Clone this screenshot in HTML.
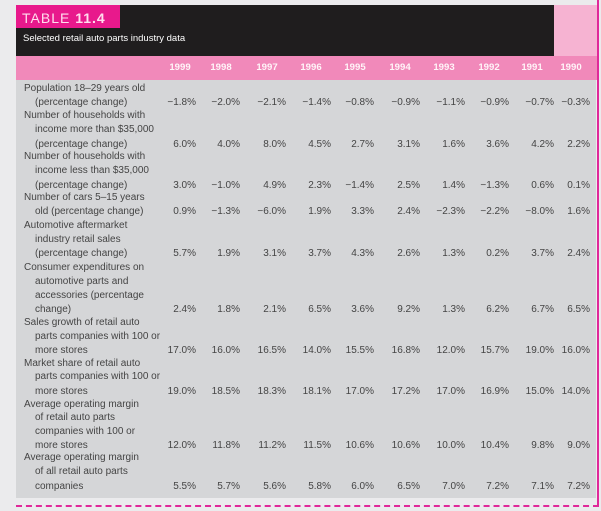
<!DOCTYPE html>
<html><head><meta charset="utf-8"><style>
*{margin:0;padding:0;box-sizing:border-box}
body{width:601px;height:511px;background:#ebebed;position:relative;overflow:hidden;font-family:"Liberation Sans",sans-serif;color:#444;font-size:10px}
.a{position:absolute}
.l{position:absolute;left:24px;line-height:14px;white-space:nowrap}
.i{left:35px}
.r{position:absolute;left:0;width:601px;height:14px;line-height:14px}
.r span{position:absolute;text-align:right;width:50px}
.r span:nth-child(1){left:146px}.r span:nth-child(2){left:190px}.r span:nth-child(3){left:236px}
.r span:nth-child(4){left:281px}.r span:nth-child(5){left:324px}.r span:nth-child(6){left:370px}
.r span:nth-child(7){left:415px}.r span:nth-child(8){left:459px}.r span:nth-child(9){left:504px}
.r span:nth-child(10){left:540px}
.y{position:absolute;top:61px;color:#fff4f8;font-weight:bold;font-size:9.6px;width:40px;text-align:center;line-height:14px}
</style></head><body>
<div class="a" style="left:16px;top:5px;width:538px;height:51px;background:#1f1d1e"></div>
<div class="a" style="left:554px;top:5px;width:44px;height:51px;background:#f6b3d2"></div>
<div class="a" style="left:16px;top:5px;width:104px;height:23px;background:#e8198c"></div>
<div class="a" style="left:22px;top:9px;color:#fde;font-size:14px;letter-spacing:1px;line-height:18px">TABLE <b>11.4</b></div>
<div class="a" style="left:23px;top:33px;color:#fff;font-size:9.5px;line-height:12px">Selected retail auto parts industry data</div>
<div class="a" style="left:16px;top:56px;width:582px;height:24px;background:#f189ba"></div>
<div class="a" style="left:16px;top:80px;width:580px;height:418px;background:#d5d6d8"></div>
<div class="a" style="left:597px;top:0;width:2px;height:506px;background:#e0289a"></div>
<div class="a" style="left:16px;top:505px;width:583px;height:0;border-top:2px dashed #e0289a"></div>
<div class="y" style="left:160px">1999</div><div class="y" style="left:201px">1998</div><div class="y" style="left:247px">1997</div><div class="y" style="left:291px">1996</div><div class="y" style="left:335px">1995</div><div class="y" style="left:380px">1994</div><div class="y" style="left:424px">1993</div><div class="y" style="left:469px">1992</div><div class="y" style="left:512px">1991</div><div class="y" style="left:551px">1990</div>

<div class="l" style="top:82px">Population 18–29 years old</div>
<div class="l i" style="top:96px">(percentage change)</div>
<div class="r" style="top:96px"><span>−1.8%</span><span>−2.0%</span><span>−2.1%</span><span>−1.4%</span><span>−0.8%</span><span>−0.9%</span><span>−1.1%</span><span>−0.9%</span><span>−0.7%</span><span>−0.3%</span></div>
<div class="l" style="top:109px">Number of households with</div>
<div class="l i" style="top:123px">income more than $35,000</div>
<div class="l i" style="top:138px">(percentage change)</div>
<div class="r" style="top:138px"><span>6.0%</span><span>4.0%</span><span>8.0%</span><span>4.5%</span><span>2.7%</span><span>3.1%</span><span>1.6%</span><span>3.6%</span><span>4.2%</span><span>2.2%</span></div>
<div class="l" style="top:150px">Number of households with</div>
<div class="l i" style="top:164px">income less than $35,000</div>
<div class="l i" style="top:179px">(percentage change)</div>
<div class="r" style="top:179px"><span>3.0%</span><span>−1.0%</span><span>4.9%</span><span>2.3%</span><span>−1.4%</span><span>2.5%</span><span>1.4%</span><span>−1.3%</span><span>0.6%</span><span>0.1%</span></div>
<div class="l" style="top:191px">Number of cars 5–15 years</div>
<div class="l i" style="top:205px">old (percentage change)</div>
<div class="r" style="top:205px"><span>0.9%</span><span>−1.3%</span><span>−6.0%</span><span>1.9%</span><span>3.3%</span><span>2.4%</span><span>−2.3%</span><span>−2.2%</span><span>−8.0%</span><span>1.6%</span></div>
<div class="l" style="top:219px">Automotive aftermarket</div>
<div class="l i" style="top:233px">industry retail sales</div>
<div class="l i" style="top:247px">(percentage change)</div>
<div class="r" style="top:247px"><span>5.7%</span><span>1.9%</span><span>3.1%</span><span>3.7%</span><span>4.3%</span><span>2.6%</span><span>1.3%</span><span>0.2%</span><span>3.7%</span><span>2.4%</span></div>
<div class="l" style="top:261px">Consumer expenditures on</div>
<div class="l i" style="top:275px">automotive parts and</div>
<div class="l i" style="top:289px">accessories (percentage</div>
<div class="l i" style="top:303px">change)</div>
<div class="r" style="top:303px"><span>2.4%</span><span>1.8%</span><span>2.1%</span><span>6.5%</span><span>3.6%</span><span>9.2%</span><span>1.3%</span><span>6.2%</span><span>6.7%</span><span>6.5%</span></div>
<div class="l" style="top:316px">Sales growth of retail auto</div>
<div class="l i" style="top:330px">parts companies with 100 or</div>
<div class="l i" style="top:344px">more stores</div>
<div class="r" style="top:344px"><span>17.0%</span><span>16.0%</span><span>16.5%</span><span>14.0%</span><span>15.5%</span><span>16.8%</span><span>12.0%</span><span>15.7%</span><span>19.0%</span><span>16.0%</span></div>
<div class="l" style="top:357px">Market share of retail auto</div>
<div class="l i" style="top:370px">parts companies with 100 or</div>
<div class="l i" style="top:385px">more stores</div>
<div class="r" style="top:385px"><span>19.0%</span><span>18.5%</span><span>18.3%</span><span>18.1%</span><span>17.0%</span><span>17.2%</span><span>17.0%</span><span>16.9%</span><span>15.0%</span><span>14.0%</span></div>
<div class="l" style="top:398px">Average operating margin</div>
<div class="l i" style="top:411px">of retail auto parts</div>
<div class="l i" style="top:425px">companies with 100 or</div>
<div class="l i" style="top:439px">more stores</div>
<div class="r" style="top:439px"><span>12.0%</span><span>11.8%</span><span>11.2%</span><span>11.5%</span><span>10.6%</span><span>10.6%</span><span>10.0%</span><span>10.4%</span><span>9.8%</span><span>9.0%</span></div>
<div class="l" style="top:451px">Average operating margin</div>
<div class="l i" style="top:465px">of all retail auto parts</div>
<div class="l i" style="top:480px">companies</div>
<div class="r" style="top:480px"><span>5.5%</span><span>5.7%</span><span>5.6%</span><span>5.8%</span><span>6.0%</span><span>6.5%</span><span>7.0%</span><span>7.2%</span><span>7.1%</span><span>7.2%</span></div>
</body></html>
